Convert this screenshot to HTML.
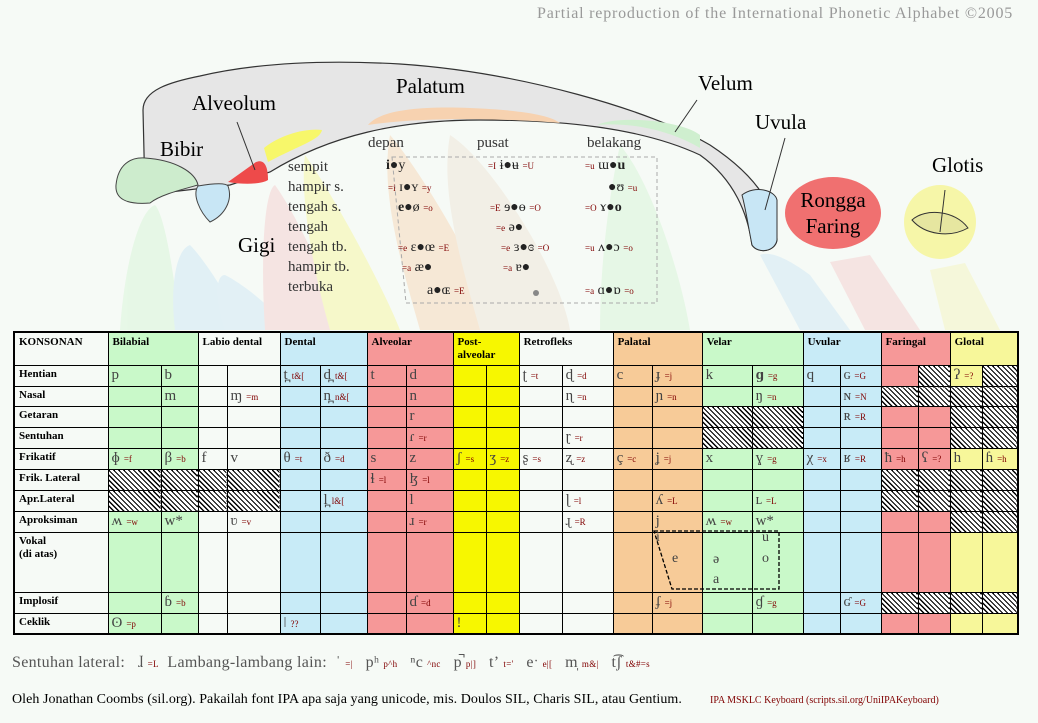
<!DOCTYPE html>
<html><head><meta charset="utf-8"><style>
body{margin:0;width:1038px;height:723px;overflow:hidden;background:#f6faf6;position:relative;font-family:"Liberation Serif",serif}
.a{position:absolute;white-space:nowrap}
table{position:absolute;left:13px;top:331px;width:1005px;border-collapse:collapse;table-layout:fixed;border:2px solid #000}
td{border:1px solid #000;padding:0 0 0 3px;vertical-align:top;overflow:hidden;white-space:nowrap;font-size:15px;color:#444;line-height:18px}
td.l{font-weight:bold;font-size:11px;color:#000;padding:2px 4px;line-height:13px}
tr.h td{font-weight:bold;font-size:11px;color:#000;padding:3px 4px;line-height:13px}
.k{font-size:9px;color:#800000;margin-left:4px}
.G{background:#c9f9c9}.W{background:#f6faf6}.B{background:#c8ebf7}.R{background:#f69898}.Y{background:#f7f700}.P{background:#f7cb98}.L{background:#f7f79a}
.H{background:repeating-linear-gradient(45deg,#000 0 1.2px,#fff 1.2px 3.5px)}
.v{font-size:14px;color:#222}
.vk{font-size:9px;color:#800000}
</style></head><body>
<svg class="a" style="left:0;top:0" width="1038" height="330">
<g opacity="0.5">
<path d="M120,330 C125,260 140,210 155,205 C165,215 175,280 180,330Z" fill="#d8f5d8"/>
<path d="M175,330 C170,290 175,250 190,245 C205,260 230,300 245,330Z" fill="#cde8f5"/>
<path d="M225,330 C215,300 215,275 225,275 C245,285 275,310 290,330Z" fill="#d0e8f5"/>
<path d="M265,330 C260,250 265,190 275,185 C300,220 330,290 345,330Z" fill="#f5d0d0"/>
<path d="M330,330 C310,260 300,190 305,155 C330,190 380,280 400,330Z" fill="#f7f7a0"/>
<path d="M420,330 C400,260 380,190 390,135 C420,170 480,270 500,330Z" fill="#f7d8b8"/>
<path d="M480,330 C460,260 440,190 450,135 C490,160 560,270 570,330Z" fill="#f0e6d8"/>
<path d="M600,330 C600,260 610,190 620,145 C650,180 680,270 690,330Z" fill="#d8f5d8"/>
<path d="M760,255 C770,250 790,260 810,275 L850,330 L800,330Z" fill="#d0e8f5"/>
<path d="M830,262 L870,255 L920,330 L865,330Z" fill="#f5d0d0"/>
<path d="M930,270 L965,263 L1000,330 L945,330Z" fill="#f5f5c0"/>
</g>
<path d="M145,195 L143,110 C143,90 170,82 200,76 C260,62 330,60 400,64 C520,72 650,110 710,145 C760,178 777,210 777,240 C775,252 758,254 752,245 C748,215 735,180 700,155 C640,127 560,120 480,120 C400,120 330,135 270,172 L230,185 Z" fill="#e6e6e6" stroke="#333" stroke-width="1.2"/>
<path d="M368,125 C380,110 420,106 470,108 C520,110 550,115 560,123 C500,118 420,117 368,125Z" fill="#f7d2b0"/>
<path d="M597,125 C620,115 680,120 700,135 L700,148 C670,130 630,122 597,125Z" fill="#cfefcf"/>
<path d="M742,195 C755,185 775,190 777,200 L777,240 C775,252 758,254 752,245 C748,225 746,210 742,195Z" fill="#c8e6f5" stroke="#333"/>
<path d="M116,185 C118,165 130,157 145,158 C175,160 195,172 198,185 C180,190 160,195 150,203 C125,205 115,198 116,185Z" fill="#cdeccd" stroke="#444"/>
<path d="M198,186 C210,184 225,182 228,186 C233,200 225,215 210,222 C200,212 192,195 198,186Z" fill="#c8e6f5" stroke="#444"/>
<path d="M228,182 L256,162 C266,158 268,170 268,180 C262,184 245,185 228,182Z" fill="#ee4a4a"/>
<path d="M264,148 C280,135 305,128 322,130 C320,140 300,145 268,162Z" fill="#f7f76a"/>
<line x1="237" y1="122" x2="255" y2="170" stroke="#333"/>
<line x1="697" y1="100" x2="675" y2="132" stroke="#333"/>
<line x1="785" y1="138" x2="765" y2="210" stroke="#333"/>
<ellipse cx="833" cy="213" rx="48" ry="36" fill="#f07070"/>
<ellipse cx="940" cy="222" rx="36" ry="37" fill="#f6f6a8"/>
<path d="M912,220 C925,208 955,210 968,228 C950,238 925,235 912,220Z" fill="#e6e6a0" stroke="#333"/>
<line x1="945" y1="190" x2="940" y2="232" stroke="#333"/>
<path d="M392,157 L657,157 L657,303 L406,303 Z" fill="none" stroke="#aaa" stroke-dasharray="4,3"/>
<circle cx="536" cy="293" r="3" fill="#888"/>
</svg>
<div class="a" style="left:537px;top:5px;font-size:16px;letter-spacing:0.8px;color:#999">Partial reproduction of the International Phonetic Alphabet ©2005</div>
<div class="a" style="left:160px;top:137px;font-size:21px">Bibir</div>
<div class="a" style="left:192px;top:91px;font-size:21px">Alveolum</div>
<div class="a" style="left:396px;top:74px;font-size:21px">Palatum</div>
<div class="a" style="left:698px;top:71px;font-size:21px">Velum</div>
<div class="a" style="left:755px;top:110px;font-size:21px">Uvula</div>
<div class="a" style="left:932px;top:153px;font-size:21px">Glotis</div>
<div class="a" style="left:238px;top:233px;font-size:21px">Gigi</div>
<div class="a" style="left:790px;top:187px;font-size:21px;text-align:center;line-height:26px;width:86px">Rongga<br>Faring</div>
<div class="a" style="left:368px;top:135px;font-size:15px;color:#333">depan</div>
<div class="a" style="left:477px;top:135px;font-size:15px;color:#333">pusat</div>
<div class="a" style="left:587px;top:135px;font-size:15px;color:#333">belakang</div>
<div class="a" style="left:288px;top:157px;font-size:15px;color:#333;line-height:20px">sempit<br>hampir s.<br>tengah s.<br>tengah<br>tengah tb.<br>hampir tb.<br>terbuka</div>
<div class="a v" style="left:386px;top:158px"><b>i</b>●y</div>
<div class="a v" style="left:488px;top:158px"><span class="vk">=I</span> ɨ●ʉ <span class="vk">=U</span></div>
<div class="a v" style="left:585px;top:158px"><span class="vk">=u</span> ɯ●<b>u</b></div>
<div class="a v" style="left:388px;top:180px"><span class="vk">=i</span> ɪ●ʏ <span class="vk">=y</span></div>
<div class="a v" style="left:608px;top:180px">●ʊ <span class="vk">=u</span></div>
<div class="a v" style="left:398px;top:200px"><b>e</b>●ø <span class="vk">=o</span></div>
<div class="a v" style="left:490px;top:200px"><span class="vk">=E</span> ɘ●ɵ <span class="vk">=O</span></div>
<div class="a v" style="left:585px;top:200px"><span class="vk">=O</span> ɤ●<b>o</b></div>
<div class="a v" style="left:496px;top:220px"><span class="vk">=e</span> ə●</div>
<div class="a v" style="left:398px;top:240px"><span class="vk">=e</span> ɛ●œ <span class="vk">=E</span></div>
<div class="a v" style="left:501px;top:240px"><span class="vk">=e</span> ɜ●ɞ <span class="vk">=O</span></div>
<div class="a v" style="left:585px;top:240px"><span class="vk">=u</span> ʌ●ɔ <span class="vk">=o</span></div>
<div class="a v" style="left:402px;top:260px"><span class="vk">=a</span> æ●</div>
<div class="a v" style="left:503px;top:260px"><span class="vk">=a</span> ɐ●</div>
<div class="a v" style="left:427px;top:283px">a●ɶ <span class="vk">=E</span></div>
<div class="a v" style="left:585px;top:283px"><span class="vk">=a</span> ɑ●ɒ <span class="vk">=o</span></div>

<table>
<colgroup><col style="width:94px"><col style="width:53px"><col style="width:37px"><col style="width:29px"><col style="width:53px"><col style="width:40px"><col style="width:47px"><col style="width:39px"><col style="width:47px"><col style="width:33px"><col style="width:33px"><col style="width:43px"><col style="width:51px"><col style="width:39px"><col style="width:50px"><col style="width:50px"><col style="width:51px"><col style="width:37px"><col style="width:41px"><col style="width:37px"><col style="width:32px"><col style="width:32px"><col style="width:36px"></colgroup>
<tr class="h" style="height:30px"><td class="W">KONSONAN</td><td colspan="2" class="G">Bilabial</td><td colspan="2" class="W">Labio dental</td><td colspan="2" class="B">Dental</td><td colspan="2" class="R">Alveolar</td><td colspan="2" class="Y">Post-<br>alveolar</td><td colspan="2" class="W">Retrofleks</td><td colspan="2" class="P">Palatal</td><td colspan="2" class="G">Velar</td><td colspan="2" class="B">Uvular</td><td colspan="2" class="R">Faringal</td><td colspan="2" class="L">Glotal</td></tr>
<tr style="height:21px"><td class="l W">Hentian</td><td class="G">p</td><td class="G">b</td><td class="W"></td><td class="W"></td><td class="B">t̪<span class="k">t&amp;[</span></td><td class="B">d̪<span class="k">t&amp;[</span></td><td class="R">t</td><td class="R">d</td><td class="Y"></td><td class="Y"></td><td class="W">ʈ<span class="k">=t</span></td><td class="W">ɖ<span class="k">=d</span></td><td class="P">c</td><td class="P">ɟ<span class="k">=j</span></td><td class="G">k</td><td class="G"><b>ɡ</b><span class="k">=g</span></td><td class="B">q</td><td class="B">ɢ<span class="k">=G</span></td><td class="R"></td><td class="H"></td><td class="L">ʔ<span class="k">=?</span></td><td class="H"></td></tr>
<tr style="height:20px"><td class="l W">Nasal</td><td class="G"></td><td class="G">m</td><td class="W"></td><td class="W">ɱ<span class="k">=m</span></td><td class="B"></td><td class="B">n̪<span class="k">n&amp;[</span></td><td class="R"></td><td class="R">n</td><td class="Y"></td><td class="Y"></td><td class="W"></td><td class="W">ɳ<span class="k">=n</span></td><td class="P"></td><td class="P">ɲ<span class="k">=n</span></td><td class="G"></td><td class="G">ŋ<span class="k">=n</span></td><td class="B"></td><td class="B">ɴ<span class="k">=N</span></td><td class="H"></td><td class="H"></td><td class="H"></td><td class="H"></td></tr>
<tr style="height:21px"><td class="l W">Getaran</td><td class="G"></td><td class="G"></td><td class="W"></td><td class="W"></td><td class="B"></td><td class="B"></td><td class="R"></td><td class="R">r</td><td class="Y"></td><td class="Y"></td><td class="W"></td><td class="W"></td><td class="P"></td><td class="P"></td><td class="H"></td><td class="H"></td><td class="B"></td><td class="B">ʀ<span class="k">=R</span></td><td class="R"></td><td class="R"></td><td class="H"></td><td class="H"></td></tr>
<tr style="height:21px"><td class="l W">Sentuhan</td><td class="G"></td><td class="G"></td><td class="W"></td><td class="W"></td><td class="B"></td><td class="B"></td><td class="R"></td><td class="R">ɾ<span class="k">=r</span></td><td class="Y"></td><td class="Y"></td><td class="W"></td><td class="W">ɽ<span class="k">=r</span></td><td class="P"></td><td class="P"></td><td class="H"></td><td class="H"></td><td class="B"></td><td class="B"></td><td class="R"></td><td class="R"></td><td class="H"></td><td class="H"></td></tr>
<tr style="height:21px"><td class="l W">Frikatif</td><td class="G">ɸ<span class="k">=f</span></td><td class="G">β<span class="k">=b</span></td><td class="W">f</td><td class="W">v</td><td class="B">θ<span class="k">=t</span></td><td class="B">ð<span class="k">=d</span></td><td class="R">s</td><td class="R">z</td><td class="Y">ʃ<span class="k">=s</span></td><td class="Y">ʒ<span class="k">=z</span></td><td class="W">ʂ<span class="k">=s</span></td><td class="W">ʐ<span class="k">=z</span></td><td class="P">ç<span class="k">=c</span></td><td class="P">ʝ<span class="k">=j</span></td><td class="G">x</td><td class="G">ɣ<span class="k">=g</span></td><td class="B">χ<span class="k">=x</span></td><td class="B">ʁ<span class="k">=R</span></td><td class="R">ħ<span class="k">=h</span></td><td class="R">ʕ<span class="k">=?</span></td><td class="L">h</td><td class="L">ɦ<span class="k">=h</span></td></tr>
<tr style="height:21px"><td class="l W">Frik. Lateral</td><td class="H"></td><td class="H"></td><td class="H"></td><td class="H"></td><td class="B"></td><td class="B"></td><td class="R">ɬ<span class="k">=l</span></td><td class="R">ɮ<span class="k">=l</span></td><td class="Y"></td><td class="Y"></td><td class="W"></td><td class="W"></td><td class="P"></td><td class="P"></td><td class="G"></td><td class="G"></td><td class="B"></td><td class="B"></td><td class="H"></td><td class="H"></td><td class="H"></td><td class="H"></td></tr>
<tr style="height:21px"><td class="l W">Apr.Lateral</td><td class="H"></td><td class="H"></td><td class="H"></td><td class="H"></td><td class="B"></td><td class="B">l̪<span class="k">l&amp;[</span></td><td class="R"></td><td class="R">l</td><td class="Y"></td><td class="Y"></td><td class="W"></td><td class="W">ɭ<span class="k">=l</span></td><td class="P"></td><td class="P">ʎ<span class="k">=L</span></td><td class="G"></td><td class="G">ʟ<span class="k">=L</span></td><td class="B"></td><td class="B"></td><td class="H"></td><td class="H"></td><td class="H"></td><td class="H"></td></tr>
<tr style="height:21px"><td class="l W">Aproksiman</td><td class="G">ʍ<span class="k">=w</span></td><td class="G">w*</td><td class="W"></td><td class="W">ʋ<span class="k">=v</span></td><td class="B"></td><td class="B"></td><td class="R"></td><td class="R">ɹ<span class="k">=r</span></td><td class="Y"></td><td class="Y"></td><td class="W"></td><td class="W">ɻ<span class="k">=R</span></td><td class="P"></td><td class="P">j</td><td class="G">ʍ<span class="k">=w</span></td><td class="G">w*</td><td class="B"></td><td class="B"></td><td class="R"></td><td class="R"></td><td class="H"></td><td class="H"></td></tr>
<tr style="height:60px"><td class="l W">Vokal<br>(di atas)</td><td class="G"></td><td class="G"></td><td class="W"></td><td class="W"></td><td class="B"></td><td class="B"></td><td class="R"></td><td class="R"></td><td class="Y"></td><td class="Y"></td><td class="W"></td><td class="W"></td><td class="P"></td><td class="P"></td><td class="G"></td><td class="G"></td><td class="B"></td><td class="B"></td><td class="R"></td><td class="R"></td><td class="L"></td><td class="L"></td></tr>
<tr style="height:21px"><td class="l W">Implosif</td><td class="G"></td><td class="G">ɓ<span class="k">=b</span></td><td class="W"></td><td class="W"></td><td class="B"></td><td class="B"></td><td class="R"></td><td class="R">ɗ<span class="k">=d</span></td><td class="Y"></td><td class="Y"></td><td class="W"></td><td class="W"></td><td class="P"></td><td class="P">ʄ<span class="k">=j</span></td><td class="G"></td><td class="G">ɠ<span class="k">=g</span></td><td class="B"></td><td class="B">ʛ<span class="k">=G</span></td><td class="H"></td><td class="H"></td><td class="H"></td><td class="H"></td></tr>
<tr style="height:20px"><td class="l W">Ceklik</td><td class="G">ʘ<span class="k">=p</span></td><td class="G"></td><td class="W"></td><td class="W"></td><td class="B">ǀ<span class="k">??</span></td><td class="B"></td><td class="R"></td><td class="R"></td><td class="Y">!</td><td class="Y"></td><td class="W"></td><td class="W"></td><td class="P"></td><td class="P"></td><td class="G"></td><td class="G"></td><td class="B"></td><td class="B"></td><td class="R"></td><td class="R"></td><td class="L"></td><td class="L"></td></tr>
</table>
<svg class="a" style="left:0;top:0" width="1038" height="723">
<path d="M654,531 L779,531 L779,589 L672,589 Z" fill="none" stroke="#000" stroke-width="1.3" stroke-dasharray="4,2"/>
</svg>
<div class="a" style="left:656px;top:530px;font-size:14px;color:#444">i</div>
<div class="a" style="left:762px;top:530px;font-size:14px;color:#444">u</div>
<div class="a" style="left:672px;top:551px;font-size:14px;color:#444">e</div>
<div class="a" style="left:713px;top:552px;font-size:14px;color:#444">ə</div>
<div class="a" style="left:762px;top:551px;font-size:14px;color:#444">o</div>
<div class="a" style="left:713px;top:572px;font-size:14px;color:#444">a</div>
<div class="a" style="left:12px;top:654px;font-size:16px;letter-spacing:0.3px;color:#555">Sentuhan lateral: &nbsp;&nbsp;ɺ<span class="k">=L</span> &nbsp;Lambang-lambang lain: &nbsp;ˈ<span class="k">=|</span> &nbsp;&nbsp;pʰ<span class="k">p^h</span> &nbsp;&nbsp;ⁿc<span class="k">^nc</span> &nbsp;&nbsp;p̚<span class="k">p|]</span> &nbsp;&nbsp;tʼ<span class="k">t='</span> &nbsp;&nbsp;eˑ<span class="k">e|[</span> &nbsp;&nbsp;m̩<span class="k">m&amp;|</span> &nbsp;&nbsp;t͡ʃ<span class="k">t&amp;#=s</span></div>
<div class="a" style="left:12px;top:692px;font-size:14px;letter-spacing:0.05px;color:#000">Oleh Jonathan Coombs (sil.org). Pakailah font IPA apa saja yang unicode, mis. Doulos SIL, Charis SIL, atau Gentium.</div>
<div class="a" style="left:710px;top:695px;font-size:10px;color:#800000">IPA MSKLC Keyboard (scripts.sil.org/UniIPAKeyboard)</div>
</body></html>
